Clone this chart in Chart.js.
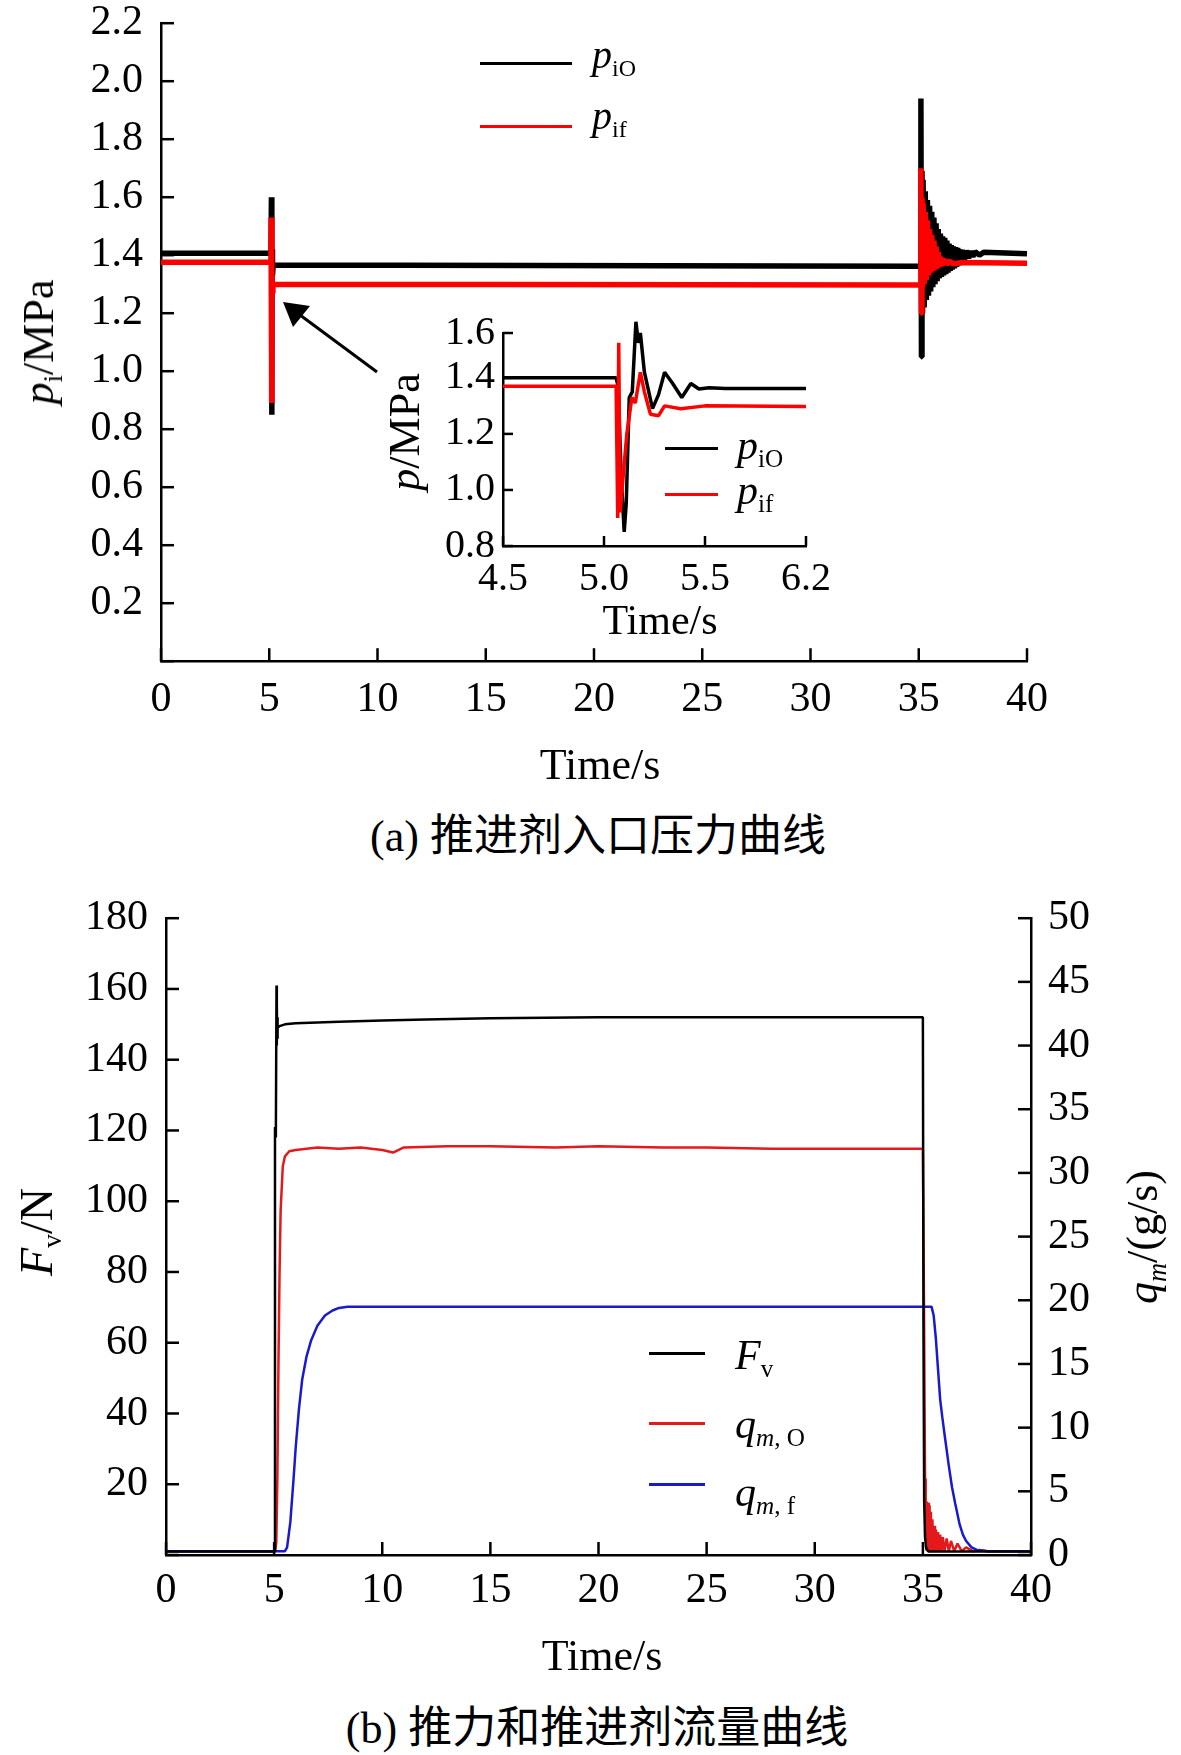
<!DOCTYPE html>
<html>
<head>
<meta charset="utf-8">
<title>推进剂入口压力曲线 / 推力和推进剂流量曲线</title>
<script src="https://cdn.jsdelivr.net/npm/chart.js@4.4.1/dist/chart.umd.min.js"></script>
<style>
  body { margin: 0; background: #fff; }
  #page { position: relative; width: 1181px; height: 1755px; overflow: hidden;
          font-family: 'Liberation Serif', 'Times New Roman', serif; color: #000; }
  canvas { position: absolute; }
  .t { position: absolute; white-space: nowrap; line-height: 1; }
  .c { transform: translate(-50%, -50%); }
  .r { transform: translate(-50%, -50%) rotate(-90deg); }
  .zh { font-family: 'Liberation Serif', 'Noto Sans CJK SC', serif; }
  i { font-style: italic; }
  sub { font-size: 0.6em; vertical-align: -0.33em; line-height: 0; }
  .leg { position: absolute; height: 3px; }
</style>
</head>
<body>
<div id="page">
  <canvas id="cTop" width="1181" height="800" style="left:0;top:0"></canvas>
  <canvas id="cInset" width="460" height="330" style="left:380px;top:300px"></canvas>
  <canvas id="cBottom" width="1181" height="800" style="left:0;top:880px"></canvas>

  <!-- (a) labels -->
  <div class="t r" style="left:39px;top:342px;font-size:44px"><i>p</i><sub>i</sub>/MPa</div>
  <div class="t c" style="left:600px;top:765px;font-size:44px">Time/s</div>
  <div class="t c zh" style="left:598px;top:837px;font-size:44px">(a) 推进剂入口压力曲线</div>

  <div class="leg" style="left:480px;top:62px;width:92px;background:#000"></div>
  <div class="leg" style="left:480px;top:125px;width:92px;background:#ff0000"></div>
  <div class="t" style="left:592px;top:35px;font-size:40px"><i>p</i><sub>iO</sub></div>
  <div class="t" style="left:592px;top:96px;font-size:40px"><i>p</i><sub>if</sub></div>

  <svg width="1181" height="880" style="position:absolute;left:0;top:0">
    <line x1="377" y1="372" x2="300" y2="315" stroke="#000" stroke-width="3"/>
    <polygon points="283,302 293,327 310,306" fill="#000"/>
  </svg>

  <!-- inset labels -->
  <div class="t r" style="left:405px;top:432px;font-size:44px"><i>p</i>/MPa</div>
  <div class="t c" style="left:660px;top:620px;font-size:42px">Time/s</div>
  <div class="leg" style="left:665px;top:447px;width:53px;background:#000"></div>
  <div class="leg" style="left:665px;top:493px;width:53px;background:#ff0000"></div>
  <div class="t" style="left:737px;top:424px;font-size:42px"><i>p</i><sub>iO</sub></div>
  <div class="t" style="left:737px;top:469px;font-size:42px"><i>p</i><sub>if</sub></div>

  <!-- (b) labels -->
  <div class="t r" style="left:37px;top:1232px;font-size:46px"><i>F</i><sub>v</sub>/N</div>
  <div class="t r" style="left:1143px;top:1237px;font-size:44px"><i>q</i><sub><i>m</i></sub>/(g/s)</div>
  <div class="t c" style="left:602px;top:1656px;font-size:44px">Time/s</div>
  <div class="t c zh" style="left:597px;top:1729px;font-size:44px">(b) 推力和推进剂流量曲线</div>

  <div class="leg" style="left:649px;top:1352px;width:56px;background:#000"></div>
  <div class="leg" style="left:649px;top:1422px;width:56px;background:#e3191b"></div>
  <div class="leg" style="left:649px;top:1483px;width:56px;background:#1a1acc"></div>
  <div class="t" style="left:735px;top:1334px;font-size:42px"><i>F</i><sub>v</sub></div>
  <div class="t" style="left:735px;top:1403px;font-size:42px"><i>q</i><sub><i>m</i>, O</sub></div>
  <div class="t" style="left:735px;top:1471px;font-size:42px"><i>q</i><sub><i>m</i>, f</sub></div>
</div>

<script>
// ---------- tick labels ----------
const timeTickLabels = ['0', '5', '10', '15', '20', '25', '30', '35', '40'];
const pTickLabels = ['0.2', '0.4', '0.6', '0.8', '1.0', '1.2', '1.4', '1.6', '1.8', '2.0', '2.2'];
// the inset axes of the original are labelled unevenly: last labels sit at the axis ends
const insetXTicks = [4.5, 5.0, 5.5, 6.0];
const insetXTickLabels = ['4.5', '5.0', '5.5', '6.2'];
const insetYTicks = [0.8, 1.0, 1.2, 1.4, 1.56];
const insetYTickLabels = ['0.8', '1.0', '1.2', '1.4', '1.6'];
const thrustTickLabels = ['20', '40', '60', '80', '100', '120', '140', '160', '180'];
const flowTickLabels = ['0', '5', '10', '15', '20', '25', '30', '35', '40', '45', '50'];

// ---------- (a) inlet pressure, MPa ----------
const pioTime = [0, 5.08, 5.10, 5.12, 5.13, 5.15, 5.18, 35.08,
  35.10, 35.125, 35.15, 35.175, 35.20, 35.25, 35.30, 35.35, 35.40, 35.45,
  35.50, 35.55, 35.60, 35.65, 35.70, 35.75, 35.80, 35.85, 35.90, 35.95,
  36.00, 36.05, 36.10, 36.15, 36.20, 36.25, 36.30, 36.35, 36.40, 36.45,
  36.50, 36.55, 36.60, 36.65, 36.70, 36.75, 36.80, 36.85, 36.90, 36.95,
  37.00, 37.10, 37.20, 37.30, 37.40, 37.50, 37.60, 37.80, 38.00, 40.00];
const pioVal = [1.407, 1.407, 1.60, 0.85, 1.42, 1.33, 1.366, 1.362,
  1.94, 1.05, 1.69, 1.20, 1.66, 1.22, 1.62, 1.245, 1.59, 1.26,
  1.57, 1.275, 1.55, 1.29, 1.53, 1.30, 1.51, 1.31, 1.49, 1.32,
  1.475, 1.325, 1.465, 1.33, 1.46, 1.335, 1.45, 1.34, 1.44, 1.345,
  1.435, 1.35, 1.43, 1.355, 1.428, 1.36, 1.425, 1.365, 1.42, 1.37,
  1.418, 1.38, 1.416, 1.39, 1.414, 1.395, 1.412, 1.40, 1.41, 1.405];

const pifTime = [0, 5.08, 5.09, 5.11, 5.12, 5.14, 5.17, 35.08,
  35.10, 35.125, 35.15, 35.175, 35.20, 35.25, 35.30, 35.35, 35.40, 35.45,
  35.50, 35.55, 35.60, 35.65, 35.70, 35.75, 35.80, 35.85, 35.90, 35.95,
  36.00, 36.05, 36.10, 36.15, 36.20, 36.30, 36.40, 36.60, 37.00, 40.00];
const pifVal = [1.376, 1.376, 1.53, 0.89, 1.35, 1.27, 1.30, 1.297,
  1.70, 1.20, 1.60, 1.29, 1.58, 1.30, 1.55, 1.315, 1.52, 1.33,
  1.49, 1.34, 1.47, 1.345, 1.45, 1.35, 1.43, 1.355, 1.41, 1.36,
  1.395, 1.362, 1.39, 1.365, 1.385, 1.368, 1.38, 1.37, 1.375, 1.372];

// inset: start-up transient, 4.5-6.0 s
const insetPioTime = [4.5, 5.06, 5.07, 5.085, 5.10, 5.11, 5.125, 5.14, 5.158, 5.17, 5.18,
  5.20, 5.24, 5.27, 5.30, 5.34, 5.385, 5.43, 5.47, 5.52, 5.6, 6.0];
const insetPioVal = [1.40, 1.40, 1.37, 1.05, 0.85, 0.95, 1.33, 1.35, 1.60, 1.525, 1.56,
  1.42, 1.29, 1.34, 1.42, 1.38, 1.33, 1.38, 1.36, 1.365, 1.362, 1.362];
const insetPifTime = [4.5, 5.06, 5.068, 5.073, 5.08, 5.095, 5.113, 5.138, 5.155, 5.18,
  5.20, 5.23, 5.27, 5.30, 5.38, 5.5, 6.0];
const insetPifVal = [1.37, 1.37, 0.90, 1.525, 0.92, 1.05, 1.20, 1.33, 1.31, 1.42,
  1.35, 1.27, 1.265, 1.30, 1.29, 1.30, 1.298];

// ---------- (b) thrust (N) and propellant flow (g/s) ----------
const fvTime = [0, 5.00, 5.04, 5.08, 5.11, 5.12, 5.13, 5.14, 5.15, 5.17, 5.25, 5.5, 6, 8,
  10, 12, 15, 20, 25, 30, 35.0, 35.03, 35.06, 35.1, 35.15, 35.25, 40];
const fvVal = [1, 1, 121, 118, 161, 144, 156, 146, 152, 149, 149.5, 150, 150.3, 150.7,
  151.1, 151.4, 151.7, 152, 152, 152, 152, 60, 15, 5, 2, 1, 1];

const qmoTime = [0, 5.05, 5.10, 5.15, 5.20, 5.25, 5.30, 5.40, 5.50, 5.70,
  6.0, 7.0, 8.0, 9.0, 10.0, 10.5, 11.0, 13.0, 15.0, 18.0,
  20.0, 23.0, 25.0, 28.0, 30.0, 33.0, 35.0, 35.05, 35.10, 35.13,
  35.16, 35.19, 35.22, 35.25, 35.28, 35.31, 35.34, 35.37, 35.40, 35.44,
  35.48, 35.52, 35.56, 35.60, 35.65, 35.70, 35.75, 35.80, 35.86, 35.92,
  36.0, 36.1, 36.2, 36.3, 36.45, 36.6, 36.8, 37.0, 37.3, 37.6,
  38.0, 40.0];
const qmoVal = [0.3, 0.3, 1, 6, 15, 22, 27, 30.5, 31.3, 31.7,
  31.8, 32.0, 31.9, 32.0, 31.8, 31.6, 32.0, 32.1, 32.1, 32.0,
  32.1, 32.0, 32.0, 31.9, 31.9, 31.9, 31.9, 20, 6, 4.3,
  0.4, 4.2, 0.4, 4.1, 0.3, 3.9, 0.3, 3.4, 0.3, 2.8,
  0.3, 2.3, 0.3, 2.0, 0.3, 1.8, 0.3, 1.6, 0.3, 1.4,
  0.3, 1.3, 0.3, 1.1, 0.3, 0.9, 0.3, 0.6, 0.3, 0.4,
  0.3, 0.3];

const qmfTime = [0, 5.5, 5.6, 5.75, 5.9, 6.0, 6.15, 6.3, 6.5, 6.7,
  7.0, 7.35, 7.7, 8.0, 8.4, 35.4, 35.5, 35.6, 35.7, 35.8,
  35.9, 36.0, 36.2, 36.35, 36.5, 36.7, 36.85, 37.0, 37.25, 37.5,
  38.0, 40.0];
const qmfVal = [0.3, 0.3, 0.6, 2.6, 6.0, 8.5, 11.5, 13.8, 15.6, 16.8,
  18.0, 18.8, 19.2, 19.4, 19.5, 19.5, 18.8, 17.0, 14.6, 12.2,
  10.8, 9.5, 7.0, 5.3, 4.0, 2.4, 1.6, 1.1, 0.6, 0.4,
  0.3, 0.3];

// ---------- helpers ----------
Chart.defaults.font.family = "'Liberation Serif', 'Times New Roman', serif";
Chart.defaults.color = '#000';

// tick marks pointing into the plot, like the original figure
const innerTicks = {
  id: 'innerTicks',
  afterDraw(chart, args, opts) {
    const ctx = chart.ctx;
    ctx.save();
    ctx.strokeStyle = '#000';
    ctx.lineWidth = 2.5;
    (opts.axes || []).forEach(a => {
      const s = chart.scales[a.id];
      s.ticks.forEach(t => {
        const p = s.getPixelForValue(t.value);
        ctx.beginPath();
        if (s.isHorizontal()) {
          ctx.moveTo(p, s.top); ctx.lineTo(p, s.top - a.len);
        } else if (s.position === 'left') {
          ctx.moveTo(s.right, p); ctx.lineTo(s.right + a.len, p);
        } else {
          ctx.moveTo(s.left, p); ctx.lineTo(s.left - a.len, p);
        }
        ctx.stroke();
      });
    });
    ctx.restore();
  }
};

function xy(ts, vs) {
  return ts.map((t, i) => ({ x: t, y: vs[i] }));
}

function series(label, ts, vs, color, width, axisId, clip) {
  return {
    label, data: xy(ts, vs), borderColor: color, borderWidth: width,
    pointRadius: 0, tension: 0, fill: false, borderJoinStyle: 'bevel',
    yAxisID: axisId || 'y', clip: clip === undefined ? 3 : clip
  };
}

// box: shared object so the x-axis height can be corrected after the first layout
function linAxis(o, box) {
  const axis = {
    type: 'linear', position: o.pos, min: o.min, max: o.max,
    grid: { display: false, drawTicks: false },
    border: { display: true, color: '#000', width: 2.5 },
    ticks: { stepSize: o.step, autoSkip: false, maxRotation: 0, minRotation: 0,
             padding: o.pad, font: { size: o.size }, color: '#000', callback: o.cb },
    afterFit: s => { if (o.pos === 'bottom') s.height = box.x; else s.width = o.w; }
  };
  if (o.values) {
    axis.afterBuildTicks = s => { s.ticks = o.values.map(v => ({ value: v })); };
  }
  return axis;
}

function pick(list, digits) {
  return v => {
    const s = v.toFixed(digits);
    return list.includes(s) ? s : '';
  };
}

function baseOptions(padRight, ticks, scales) {
  return {
    responsive: false, maintainAspectRatio: false, animation: false, events: [],
    layout: { autoPadding: false, padding: { left: 0, top: 0, right: padRight, bottom: 0 } },
    plugins: { legend: { display: false }, tooltip: { enabled: false }, innerTicks: { axes: ticks } },
    scales
  };
}

// move/resize so the plot area lands on the same pixels as the original figure
function fitArea(chart, box, target) {
  for (let k = 0; k < 3; k++) {
    const ca = chart.chartArea;
    const dh = (target.bottom - target.top) - (ca.bottom - ca.top);
    if (Math.abs(dh) < 0.5) break;
    box.x -= dh;
    chart.update();
  }
  const ca = chart.chartArea;
  chart.canvas.style.left = (target.left - ca.left) + 'px';
  chart.canvas.style.top = (target.top - ca.top) + 'px';
}

// ---------- (a) main ----------
const topBox = { x: 120 };
const topChart = new Chart(document.getElementById('cTop'), {
  type: 'line',
  data: { datasets: [
    series('pif', pifTime, pifVal, '#ff0000', 5.5),
    series('piO', pioTime, pioVal, '#000000', 5.5)
  ] },
  options: baseOptions(154,
    [{ id: 'x', len: 13 }, { id: 'y', len: 13 }],
    {
      x: linAxis({ pos: 'bottom', min: 0, max: 40, step: 5, pad: 14, size: 42, cb: pick(timeTickLabels, 0) }, topBox),
      y: linAxis({ pos: 'left', min: 0, max: 2.2, step: 0.2, pad: 18, size: 42, w: 161, cb: pick(pTickLabels, 1) }, topBox)
    }),
  plugins: [innerTicks]
});
fitArea(topChart, topBox, { left: 161, top: 23, right: 1027, bottom: 661 });

// ---------- (a) inset ----------
const insetBox = { x: 54 };
const insetChart = new Chart(document.getElementById('cInset'), {
  type: 'line',
  data: { datasets: [
    series('pif', insetPifTime, insetPifVal, '#ff0000', 3.5, 'y', false),
    series('piO', insetPioTime, insetPioVal, '#000000', 3.5, 'y', false)
  ] },
  options: baseOptions(34,
    [{ id: 'x', len: 10 }, { id: 'y', len: 10 }],
    {
      x: linAxis({ pos: 'bottom', min: 4.5, max: 6.0, step: 0.5, pad: 9, size: 40, values: insetXTicks,
                   cb: (v, i) => insetXTickLabels[i] }, insetBox),
      y: linAxis({ pos: 'left', min: 0.8, max: 1.56, step: 0.2, pad: 8, size: 40, w: 123, values: insetYTicks,
                   cb: (v, i) => insetYTickLabels[i] }, insetBox)
    }),
  plugins: [innerTicks]
});
fitArea(insetChart, insetBox, { left: 503, top: 333, right: 806, bottom: 546 });

// ---------- (b) thrust and flow ----------
const bottomBox = { x: 120 };
const bottomChart = new Chart(document.getElementById('cBottom'), {
  type: 'line',
  data: { datasets: [
    series('Fv', fvTime, fvVal, '#000000', 2.5, 'y'),
    series('qmf', qmfTime, qmfVal, '#1a1acc', 2.5, 'y2'),
    series('qmO', qmoTime, qmoVal, '#e3191b', 2.5, 'y2')
  ] },
  options: baseOptions(0,
    [{ id: 'x', len: 13 }, { id: 'y', len: 13 }, { id: 'y2', len: 13 }],
    {
      x: linAxis({ pos: 'bottom', min: 0, max: 40, step: 5, pad: 11, size: 42, cb: pick(timeTickLabels, 0) }, bottomBox),
      y: linAxis({ pos: 'left', min: 0, max: 180, step: 20, pad: 18, size: 42, w: 166, cb: pick(thrustTickLabels, 0) }, bottomBox),
      y2: linAxis({ pos: 'right', min: 0, max: 50, step: 5, pad: 17, size: 42, w: 150, cb: pick(flowTickLabels, 0) }, bottomBox)
    }),
  plugins: [innerTicks]
});
fitArea(bottomChart, bottomBox, { left: 166, top: 918, right: 1031, bottom: 1555 });
</script>
</body>
</html>
